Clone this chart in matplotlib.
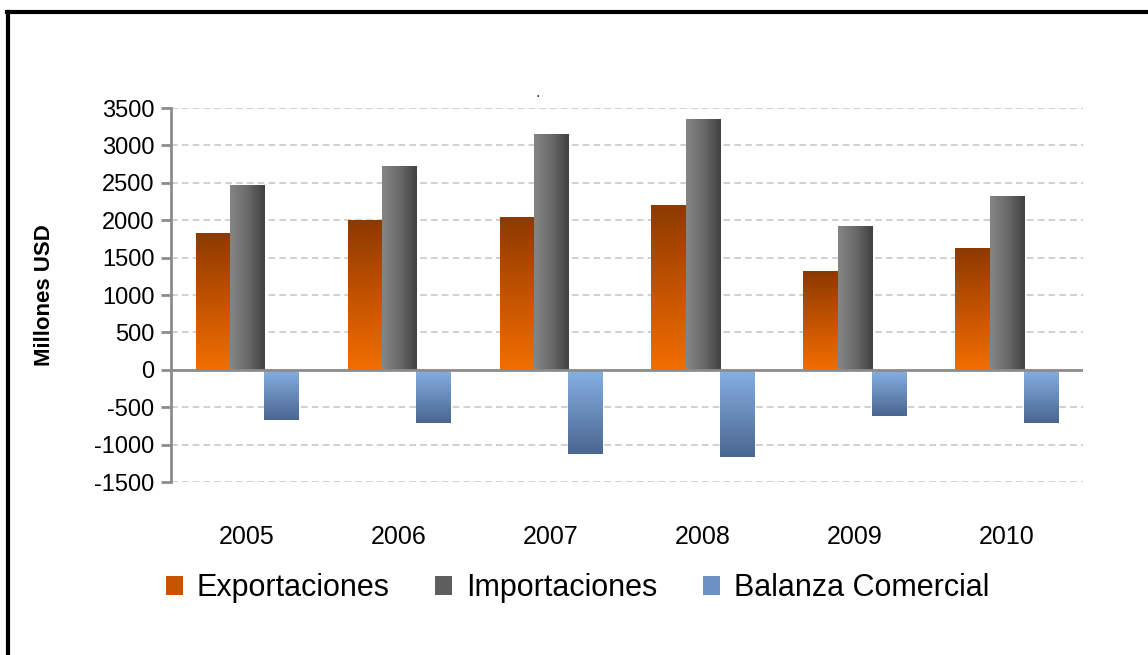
"""
Exportaciones, importaciones y balanza comercial 2005-2010 (millones USD).
"""

import numpy as np
import matplotlib.pyplot as plt
from matplotlib.colors import LinearSegmentedColormap
from matplotlib.patches import Patch
from matplotlib.lines import Line2D

plt.rcParams["font.family"] = ["Liberation Sans", "DejaVu Sans"]

anios = ["2005", "2006", "2007", "2008", "2009", "2010"]
exportaciones = [1830, 2000, 2040, 2200, 1320, 1630]
importaciones = [2470, 2730, 3160, 3350, 1920, 2320]
balanza = [-670, -710, -1120, -1160, -610, -710]

series = ["Exportaciones", "Importaciones", "Balanza Comercial"]
y_ticks = list(range(-1500, 3501, 500))


def rellenar_gradiente(ax, barras, colores, vertical=True):
    cmap = LinearSegmentedColormap.from_list("g", colores)
    grad = np.linspace(0, 1, 256)
    img = grad[:, None] if vertical else grad[None, :]
    for b in barras:
        x0, y0 = b.get_x(), b.get_y()
        x1, y1 = x0 + b.get_width(), y0 + b.get_height()
        ymin, ymax = min(y0, y1), max(y0, y1)
        # origin='upper': primera fila arriba
        im = ax.imshow(img, cmap=cmap, extent=(x0, x1, ymin, ymax),
                       origin="upper", aspect="auto", zorder=3)
        im.set_clip_path(b)


def main():
    fig = plt.figure(figsize=(11.48, 6.55), dpi=100)
    ax = fig.add_axes([0.149, 0.264, 0.794, 0.571])

    x = np.arange(len(anios))
    ancho = 0.225

    b_exp = ax.bar(x - ancho, exportaciones, ancho, color="#d05a00", zorder=2,
                   edgecolor="none")
    b_imp = ax.bar(x, importaciones, ancho, color="#606060", zorder=2,
                   edgecolor="none")
    b_bal = ax.bar(x + ancho, balanza, ancho, color="#6a8cc0", zorder=2,
                   edgecolor="none")

    rellenar_gradiente(ax, b_exp, ["#8c3a00", "#c25200", "#f26e00"])
    rellenar_gradiente(ax, b_imp, ["#858585", "#6a6a6a", "#404040"], vertical=False)
    # barras negativas: arriba claro, abajo oscuro
    rellenar_gradiente(ax, b_bal, ["#86b0e4", "#4a6690"])

    ax.set_xlim(-0.5, len(anios) - 0.5)
    ax.set_ylim(-1500, 3500)
    ax.set_yticks(y_ticks)
    ax.set_yticklabels([str(v) for v in y_ticks], fontsize=17)
    ax.yaxis.grid(True, color="#c8c8c8", linestyle=(0, (4, 2.5)), linewidth=1.2, zorder=0)
    ax.axhline(0, color="#8c8c8c", linewidth=2, zorder=4)

    ax.set_xticks(x)
    ax.set_xticklabels(anios, fontsize=18)
    ax.tick_params(axis="x", length=0, pad=31)
    ax.tick_params(axis="y", length=7, width=2, color="#8c8c8c", pad=5)

    for lado in ["top", "right", "bottom"]:
        ax.spines[lado].set_visible(False)
    ax.spines["left"].set_color("#8c8c8c")
    ax.spines["left"].set_linewidth(2)

    ax.set_ylabel("Millones USD", fontsize=16, fontweight="bold", labelpad=28)

    handles = [Patch(facecolor="#c85400", edgecolor="none"),
               Patch(facecolor="#5e5e5e", edgecolor="none"),
               Patch(facecolor="#6f92c4", edgecolor="none")]
    fig.legend(handles, series, loc="center", bbox_to_anchor=(0.503, 0.102),
               ncol=3, frameon=False, fontsize=22, handlelength=0.55,
               handleheight=0.55, handletextpad=0.45, columnspacing=1.5)

    # punto suelto encima del gráfico
    fig.text(0.468, 0.852, ".", fontsize=12, color="#1a2a40", ha="center")

    # marco negro (solo arriba e izquierda visibles)
    fig.add_artist(Line2D([0.006, 1.0], [0.982, 0.982], color="black",
                          linewidth=3, transform=fig.transFigure))
    fig.add_artist(Line2D([0.007, 0.007], [0.0, 0.982], color="black",
                          linewidth=3, transform=fig.transFigure))

    fig.savefig("out.png", dpi=100, facecolor="white")


if __name__ == "__main__":
    main()
